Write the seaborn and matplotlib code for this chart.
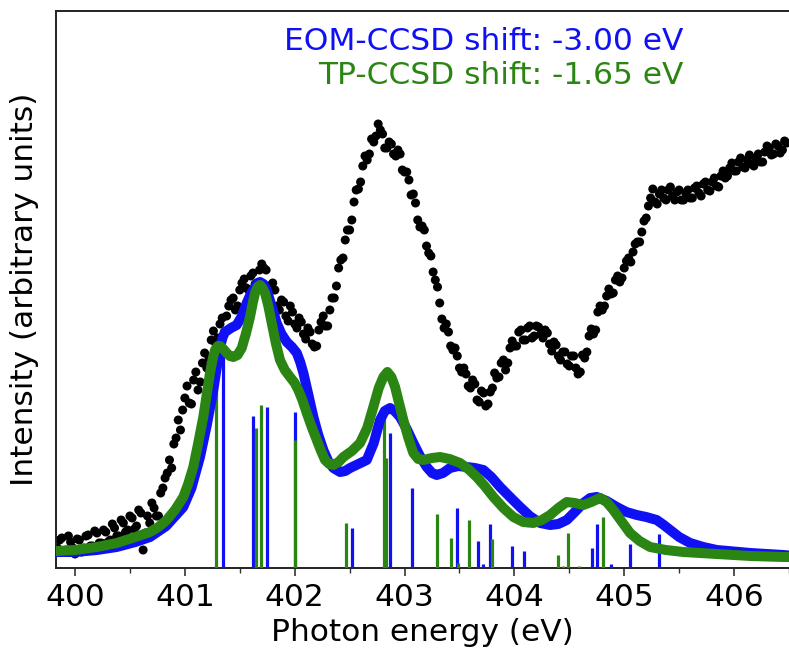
import numpy as np
import pandas as pd
import matplotlib
matplotlib.use("Agg")
import matplotlib.pyplot as plt
import seaborn as sns
from matplotlib.ticker import MultipleLocator

# ---------------- data ----------------
# experimental spectrum, sampled every 0.02 eV: two interleaved 0.04 eV grids
exp_start, exp_step = 399.84, 0.04
exp_intensity_a = [
    20, 30, 18, 26, 14, 28, 20, 33, 22, 35,
    25, 36, 28, 40, 32, 45, 38, 50, 42, 55,
    35, 45, 60, 52, 80, 95, 100, 130, 138, 170,
    165, 188, 178, 205, 200, 228, 225, 244, 236, 262,
    270, 262, 285, 280, 292, 284, 298, 300, 282, 285,
    262, 268, 252, 262, 244, 250, 234, 240, 224, 222,
    246, 242, 258, 270, 300, 310, 338, 348, 378, 386,
    412, 414, 426, 444, 434, 420, 424, 412, 414, 396,
    388, 374, 348, 342, 322, 312, 288, 265, 240, 236,
    218, 212, 196, 194, 180, 184, 166, 175, 164, 180,
    190, 205, 198, 220, 222, 236, 228, 240, 230, 242,
    234, 238, 224, 226, 212, 216, 204, 212, 200, 196,
    210, 232, 234, 256, 258, 272, 274, 288, 286, 300,
    310, 316, 326, 336, 350, 370, 366, 374, 370, 378,
    372, 376, 368, 375, 370, 380, 375, 384, 378, 386,
    382, 392, 390, 400, 397, 406, 401, 408, 404, 410,
    406, 416, 420, 414, 422, 418, 425,
]
exp_intensity_b = [
    28, 17, 32, 20, 29, 16, 32, 22, 37, 25,
    38, 26, 44, 32, 48, 36, 52, 39, 58, 18,
    52, 65, 52, 75, 90, 108, 124, 148, 158, 182,
    164, 196, 186, 215, 210, 237, 230, 250, 252, 268,
    258, 278, 289, 278, 295, 285, 304, 298, 277, 278,
    258, 266, 247, 256, 240, 246, 229, 236, 221, 238,
    252, 242, 270, 282, 308, 328, 338, 366, 379, 402,
    408, 429, 432, 438, 420, 426, 414, 418, 398, 396,
    373, 365, 341, 338, 315, 296, 281, 249, 244, 222,
    220, 200, 200, 182, 188, 168, 177, 162, 176, 195,
    191, 208, 205, 227, 222, 238, 228, 242, 232, 241,
    230, 235, 217, 223, 208, 216, 202, 212, 194, 213,
    216, 239, 238, 262, 262, 279, 275, 292, 290, 307,
    306, 324, 326, 347, 362, 379, 364, 378, 368, 381,
    368, 378, 368, 378, 370, 382, 372, 386, 377, 390,
    381, 397, 392, 405, 397, 410, 400, 413, 402, 414,
    406, 422, 413, 424, 415, 427,
]
exp_energy_a = exp_start + exp_step * np.arange(len(exp_intensity_a))
exp_energy_b = exp_start + exp_step / 2 + exp_step * np.arange(len(exp_intensity_b))

# broadened EOM-CCSD spectrum
eom_energy = [399.836, 400.0, 400.2, 400.380, 400.55, 400.683, 400.83, 400.986,
              401.06, 401.138, 401.20, 401.259, 401.290, 401.320, 401.345, 401.366,
              401.42, 401.472, 401.52, 401.563, 401.60, 401.639, 401.662, 401.684,
              401.715, 401.745, 401.79, 401.836, 401.88, 401.928, 401.975, 402.019,
              402.05, 402.079, 402.125, 402.170, 402.215, 402.261, 402.305, 402.352,
              402.413, 402.46, 402.504, 402.58, 402.656, 402.72, 402.777, 402.82,
              402.868, 402.91, 402.959, 403.02, 403.080, 403.14, 403.202, 403.25,
              403.293, 403.35, 403.414, 403.49, 403.566, 403.64, 403.718, 403.79,
              403.870, 403.96, 404.052, 404.14, 404.234, 404.325, 404.40, 404.477,
              404.55, 404.628, 404.69, 404.750, 404.84, 404.932, 405.02, 405.114,
              405.20, 405.296, 405.36, 405.418, 405.50, 405.600, 405.72, 405.843,
              406.15, 406.449, 406.5]
eom_curve = [16, 16, 18, 21, 26, 31, 42, 61,
             80, 111, 143, 178, 200, 221, 231, 236,
             240, 243, 252, 265, 274, 281, 285, 286,
             284, 278, 262, 245, 234, 226, 221, 215,
             206, 195, 173, 151, 133, 118, 107, 100,
             96, 97, 100, 104, 108, 125, 148, 157,
             160, 157, 151, 139, 125, 112, 101, 95,
             93, 95, 100, 102, 101, 100, 98, 91,
             81, 71, 61, 52, 45, 43, 44, 48,
             56, 65, 70, 71, 67, 61, 56, 53,
             51, 48, 43, 38, 31, 25, 21, 18,
             15, 13, 12.5]

# broadened TP-CCSD spectrum
tp_energy = [399.836, 400.0, 400.2, 400.38, 400.55, 400.683, 400.76, 400.835,
             400.91, 400.986, 401.03, 401.077, 401.12, 401.168, 401.20, 401.229,
             401.255, 401.275, 401.30, 401.320, 401.35, 401.381, 401.41, 401.441,
             401.48, 401.518, 401.555, 401.593, 401.62, 401.639, 401.662, 401.684,
             401.707, 401.730, 401.76, 401.791, 401.83, 401.866, 401.91, 401.958,
             402.0, 402.033, 402.07, 402.110, 402.155, 402.201, 402.24, 402.276,
             402.315, 402.352, 402.40, 402.443, 402.52, 402.595, 402.66, 402.716,
             402.765, 402.807, 402.844, 402.88, 402.914, 402.95, 402.989, 403.035,
             403.080, 403.125, 403.171, 403.25, 403.323, 403.41, 403.505, 403.58,
             403.657, 403.73, 403.809, 403.90, 403.991, 404.08, 404.173, 404.25,
             404.325, 404.40, 404.477, 404.55, 404.628, 404.70, 404.780, 404.84,
             404.901, 404.98, 405.053, 405.14, 405.235, 405.38, 405.539, 405.843,
             406.15, 406.449, 406.5]
tp_curve = [17, 18, 21, 25, 31, 36, 41, 48,
            58, 71, 84, 101, 124, 151, 174, 195,
            210, 218, 222, 222, 219, 215, 212, 211,
            213, 220, 234, 251, 266, 275, 281, 283,
            280, 275, 262, 245, 224, 208, 198, 191,
            185, 178, 168, 155, 141, 128, 117, 108,
            104, 103, 106, 111, 117, 125, 140, 161,
            180, 191, 196, 191, 181, 165, 148, 130,
            115, 109, 108, 110, 111, 109, 105, 99,
            91, 82, 71, 60, 51, 46, 45, 48,
            53, 60, 66, 65, 63, 66, 70, 66,
            58, 46, 35, 27, 21, 18, 16, 14,
            12, 11, 11]

# stick spectra
eom_stick_energy = [401.350, 401.623, 401.751, 402.003, 402.520, 402.868, 403.070, 403.475,
                    403.667, 403.710, 403.778, 403.976, 404.090, 404.710, 404.750, 404.880,
                    405.050, 405.317]
eom_stick_height = [215, 152, 161, 156, 40, 135, 80, 60,
                    27, 4, 44, 22, 17, 20, 44, 4,
                    24, 34]
tp_stick_energy = [401.281, 401.648, 401.690, 402.000, 402.465, 402.810, 402.830, 403.293,
                   403.420, 403.490, 403.587, 403.800, 404.395, 404.446, 404.486, 404.590,
                   404.810]
tp_stick_height = [218, 140, 163, 128, 45, 151, 110, 54,
                   30, 5, 48, 29, 13, 2, 35, 2,
                   51]

eom_label = "EOM-CCSD shift: -3.00 eV"
tp_label = "TP-CCSD shift: -1.65 eV"
x_ticks = [400, 401, 402, 403, 404, 405, 406]

BLUE = "#1010f5"
GREEN = "#2a8512"
FS = 22.5

# ---------------- plot ----------------
sns.set_theme(style="ticks")
plt.rcParams["font.family"] = ["DejaVu Sans"]
plt.rcParams["text.color"] = "black"
plt.rcParams["axes.labelcolor"] = "black"
plt.rcParams["xtick.color"] = "black"

fig = plt.figure(figsize=(7.89, 6.53), dpi=100)
ax = fig.add_axes([56 / 789, 1 - 568 / 653, 1 - 56 / 789, (568 - 11) / 653])

exp_df = pd.DataFrame({
    "energy": np.concatenate([exp_energy_a, exp_energy_b]),
    "intensity": np.concatenate([exp_intensity_a, exp_intensity_b]),
})
sns.scatterplot(data=exp_df, x="energy", y="intensity", ax=ax, color="black",
                s=42, edgecolor="none", linewidth=0, zorder=2, legend=False)

ax.vlines(eom_stick_energy, 0, eom_stick_height, color=BLUE, linewidth=2.3, zorder=3)
ax.vlines(tp_stick_energy, 0, tp_stick_height, color=GREEN, linewidth=2.3, zorder=4)

eom_df = pd.DataFrame({"energy": eom_energy, "intensity": eom_curve})
tp_df = pd.DataFrame({"energy": tp_energy, "intensity": tp_curve})
sns.lineplot(data=eom_df, x="energy", y="intensity", ax=ax, color=BLUE, linewidth=7.2,
             sort=False, estimator=None, zorder=5, solid_capstyle="round",
             solid_joinstyle="round")
sns.lineplot(data=tp_df, x="energy", y="intensity", ax=ax, color=GREEN, linewidth=7.2,
             sort=False, estimator=None, zorder=6, solid_capstyle="round",
             solid_joinstyle="round")

ax.set_xlim(399.827, 406.50)
ax.set_ylim(0, 557)
ax.set_xticks(x_ticks)
ax.set_xticklabels([str(t) for t in x_ticks])
ax.xaxis.set_minor_locator(MultipleLocator(0.5))
ax.set_yticks([])
ax.tick_params(axis="x", which="major", labelsize=FS, length=6, width=1.2,
               direction="out", pad=5, color="#333333", labelcolor="black")
ax.tick_params(axis="x", which="minor", length=3.5, width=1.0, color="#333333")
ax.set_xlabel("Photon energy (eV)", fontsize=FS, labelpad=4, color="black")
ax.set_ylabel("Intensity (arbitrary units)", fontsize=FS, labelpad=12, color="black")
for side in ["left", "top", "bottom"]:
    ax.spines[side].set_linewidth(1.4)
    ax.spines[side].set_color("#222222")
ax.spines["right"].set_visible(False)

fig.text(683 / 789, 1 - 42 / 653, eom_label, color=BLUE, fontsize=FS,
         ha="right", va="center")
fig.text(683 / 789, 1 - 76 / 653, tp_label, color=GREEN, fontsize=FS,
         ha="right", va="center")

fig.savefig("out.png", dpi=100)
